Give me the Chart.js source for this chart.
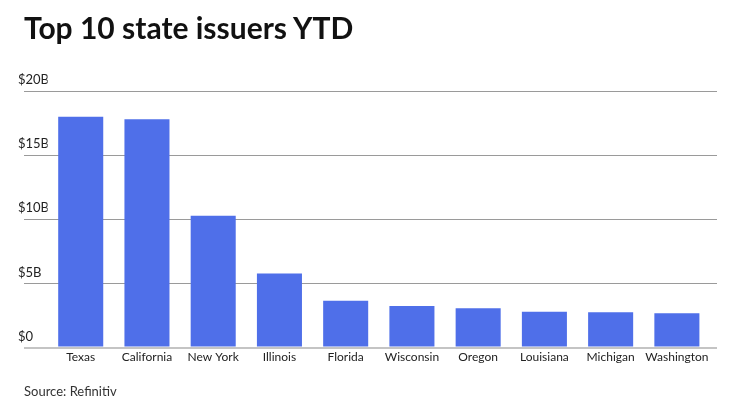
<!DOCTYPE html>
<html>
<head>
<meta charset="utf-8">
<script src="https://cdn.jsdelivr.net/npm/chart.js@4/dist/chart.umd.min.js"></script>
<style>
  html, body { margin: 0; padding: 0; background: #fff; }
  .wrap { position: relative; width: 740px; height: 416px; overflow: hidden; }
  .title { position: absolute; left: 24px; top: 12px; font: bold 30px/30px Lato, sans-serif; color: #111; white-space: nowrap; }
  .source { position: absolute; left: 24px; top: 385px; font: 13px/13px Lato, sans-serif; color: #333; white-space: nowrap; }
  .chart { position: absolute; left: 0; top: 0; width: 740px; height: 416px; }
</style>
</head>
<body>
<div class="wrap">
  <div class="chart"><canvas id="issuers"></canvas></div>
  <div class="title">Top 10 state issuers YTD</div>
  <div class="source">Source: Refinitiv</div>
</div>
<script>
// volume in $ billions
const states = ['Texas', 'California', 'New York', 'Illinois', 'Florida', 'Wisconsin', 'Oregon', 'Louisiana', 'Michigan', 'Washington'];
const volume = [18.0, 17.8, 10.28, 5.78, 3.66, 3.24, 3.06, 2.8, 2.75, 2.67];
const yTicks = [0, 5, 10, 15, 20];

const gridColor = (ctx) => ctx.tick && ctx.tick.value === 0 ? '#c4c4c4' : '#9a9a9a';
const gridWidth = (ctx) => ctx.tick && ctx.tick.value === 0 ? 2 : 1;

new Chart(document.getElementById('issuers'), {
  type: 'bar',
  data: {
    labels: states,
    datasets: [{
      data: volume,
      backgroundColor: '#4f6fe9',
      borderWidth: 0,
      barPercentage: 0.68,
      categoryPercentage: 1,
    }],
  },
  options: {
    responsive: true,
    maintainAspectRatio: false,
    animation: false,
    layout: { padding: { left: 18, right: 23, top: 91, bottom: 50 } },
    plugins: {
      legend: { display: false },
      tooltip: { enabled: false },
    },
    scales: {
      x: {
        grid: { display: false, drawTicks: false },
        border: { display: false },
        ticks: { color: '#222', font: { family: 'Lato', size: 12 }, padding: 2, maxRotation: 0 },
      },
      y: {
        min: 0,
        max: 20,
        afterBuildTicks: (scale) => { scale.ticks = yTicks.map(v => ({ value: v })); },
        afterFit: (scale) => { scale.width = 29.6; },
        border: { display: false },
        grid: { color: gridColor, lineWidth: gridWidth, tickLength: 23.6 },
        ticks: {
          crossAlign: 'far',
          labelOffset: -11,
          color: '#222',
          font: { family: 'Lato', size: 13 },
          callback: (v) => '$' + v + (v ? 'B' : ''),
        },
      },
      y2: {
        position: 'right',
        min: 0,
        max: 20,
        afterBuildTicks: (scale) => { scale.ticks = yTicks.map(v => ({ value: v })); },
        afterFit: (scale) => { scale.width = 7; },
        border: { display: false },
        grid: { drawOnChartArea: false, color: gridColor, lineWidth: gridWidth, tickLength: 7 },
        ticks: { display: false },
      },
    },
  },
});
</script>
</body>
</html>
